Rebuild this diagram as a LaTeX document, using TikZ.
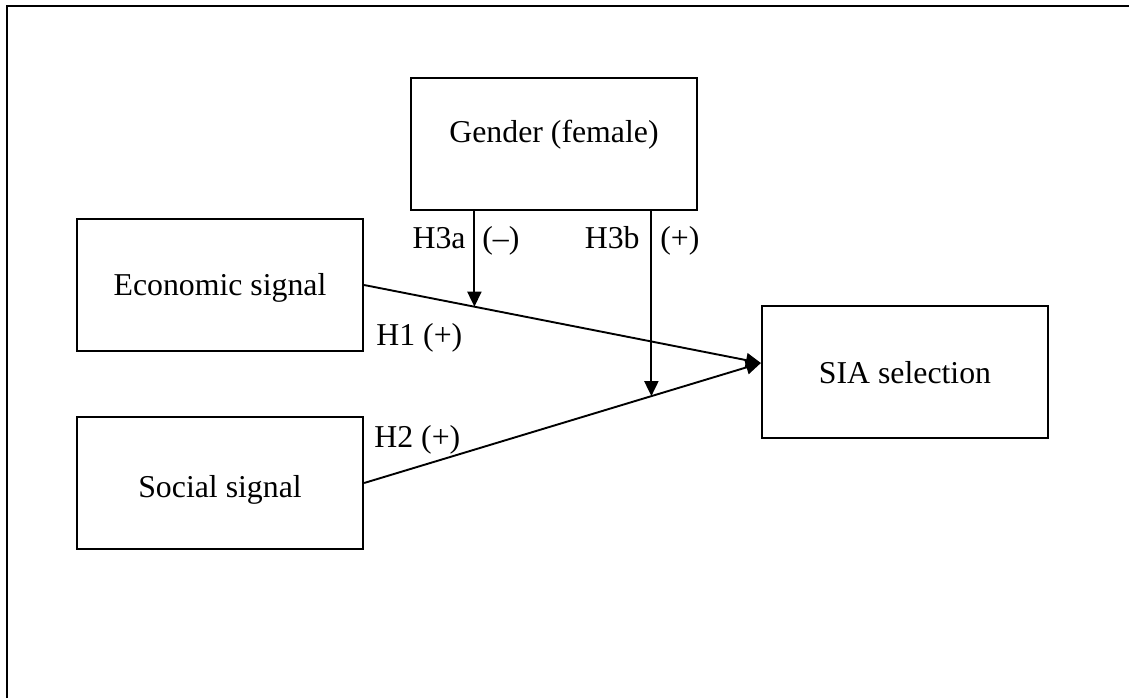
\documentclass[tikz,border=0pt]{standalone}
\usepackage{fontspec}
\setmainfont{Liberation Serif}
\usetikzlibrary{arrows.meta,calc}

\tikzset{
  box/.style={draw, line width=1.1pt, minimum width=143pt, minimum height=66pt,
    inner sep=0pt, font=\fontsize{15.9}{19}\selectfont},
  lbl/.style={inner sep=0pt, font=\fontsize{15.9}{19}\selectfont},
  arr/.style={line width=0.95pt, -{Triangle[length=7.5pt,width=7pt]}},
  frame/.style={line width=1pt}
}

\begin{document}
\begin{tikzpicture}[x=0.5pt, y=-0.5pt]
  \useasboundingbox (0,0) rectangle (1129,698);

  % outer frame (left and top edges)
  \draw[frame] (7,698) -- (7,5.7) -- (1129,5.7);

  % constructs
  \node[box, text height=11pt, text depth=13pt] (gender) at (554,144) {Gender (female)};
  \node[box, text height=12.5pt, text depth=2.5pt] (econ) at (220,285) {Economic signal};
  \node[box, text height=16pt, text depth=2pt] (social) at (220,483) {Social signal};
  \node[box, text height=13pt, text depth=2pt] (sia) at (905,372) {SIA selection};

  % main effects
  \coordinate (tip) at ([yshift=4.5pt]sia.west);
  \draw[arr] (econ.east) -- (tip);
  \draw[arr] (social.east) -- (tip);

  % moderation points on the main paths
  \coordinate (m1) at ($(econ.east)!0.278!(tip)$);
  \coordinate (m2) at ($(social.east)!0.724!(tip)$);
  \draw[arr] (gender.south -| m1) -- (m1);
  \draw[arr] (gender.south -| m2) -- (m2);

  % hypothesis labels
  \node[lbl, anchor=base east] (h3a) at (466,248) {H3a};
  \node[lbl, anchor=base west] (h3as) at (482,248) {(–)};
  \node[lbl, anchor=base east] (h3b) at (640,248) {H3b};
  \node[lbl, anchor=base west] (h3bs) at (660,248) {(+)};
  \node[lbl, anchor=base west] (h1) at (376,345) {H1 (+)};
  \node[lbl, anchor=base west] (h2) at (374,447) {H2 (+)};
\end{tikzpicture}
\end{document}
